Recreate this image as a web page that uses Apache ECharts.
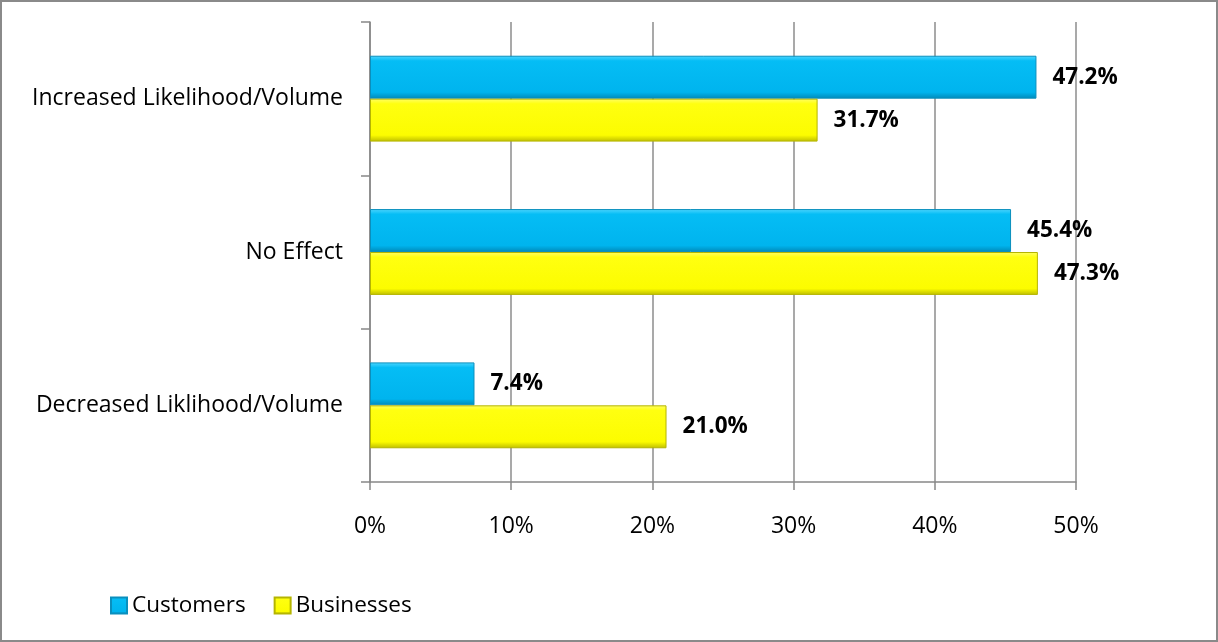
<!DOCTYPE html>
<html><head><meta charset="utf-8">
<script src="https://cdn.jsdelivr.net/npm/echarts@6/dist/echarts.min.js"></script>
<style>html,body{margin:0;padding:0;background:#fff}#c{width:1218px;height:642px}</style>
</head><body><div id="c"></div>
<script>
const categories = ['Increased Likelihood/Volume', 'No Effect', 'Decreased Liklihood/Volume'];
const customers = [47.2, 45.4, 7.4];
const businesses = [31.7, 47.3, 21.0];
const seriesNames = ['Customers', 'Businesses'];

const font = '"Open Sans", sans-serif';
const blueGrad = new echarts.graphic.LinearGradient(0,0,0,1,[
  {offset:0,color:'#4fd6ff'},{offset:0.12,color:'#05bdf5'},{offset:0.85,color:'#00b4ee'},{offset:1,color:'#0089b8'}]);
const yellowGrad = new echarts.graphic.LinearGradient(0,0,0,1,[
  {offset:0,color:'#ffff66'},{offset:0.12,color:'#ffff10'},{offset:0.85,color:'#fcfc00'},{offset:1,color:'#bdbd00'}]);

const chart = echarts.init(document.getElementById('c'));
const labelCfg = {show:true, position:'right', distance:16, color:'#000', fontFamily:font, fontWeight:'bold', fontSize:22.5,
  formatter: p => p.value.toFixed(1) + '%'};
chart.setOption({
  animation:false,
  graphic:[{type:'rect', shape:{x:1,y:1,width:1216,height:640}, style:{fill:'none', stroke:'#8a8a8a', lineWidth:2}, silent:true}],
  grid:{left:370, right:142, top:22, bottom:160, containLabel:false},
  legend:{left:105, top:589, itemWidth:16, itemHeight:16, itemGap:28, icon:'rect',
    textStyle:{fontFamily:font, fontSize:22.5, color:'#000'}, data:seriesNames},
  xAxis:{type:'value', min:0, max:50, interval:10,
    axisLabel:{formatter:'{value}%', fontFamily:font, fontSize:23, color:'#000', margin:33},
    axisLine:{show:true, lineStyle:{color:'#888', width:1.5}},
    axisTick:{show:true, length:8, lineStyle:{color:'#888', width:1.5}},
    splitLine:{show:true, lineStyle:{color:'#8c8c8c', width:1.5}}},
  yAxis:{type:'category', inverse:true, data:categories,
    axisLabel:{fontFamily:font, fontSize:23, color:'#000', margin:27},
    axisLine:{show:true, lineStyle:{color:'#888', width:1.5}},
    axisTick:{show:true, length:9, lineStyle:{color:'#888', width:1.5}}},
  series:[
    {name:seriesNames[0], type:'bar', data:customers, barCategoryGap:'44%', barGap:'0%',
      itemStyle:{color:blueGrad, borderColor:'#0a8fbd', borderWidth:1}, label:labelCfg},
    {name:seriesNames[1], type:'bar', data:businesses, barCategoryGap:'44%', barGap:'0%',
      itemStyle:{color:yellowGrad, borderColor:'#b5b500', borderWidth:1}, label:labelCfg}
  ]
});
</script></body></html>
